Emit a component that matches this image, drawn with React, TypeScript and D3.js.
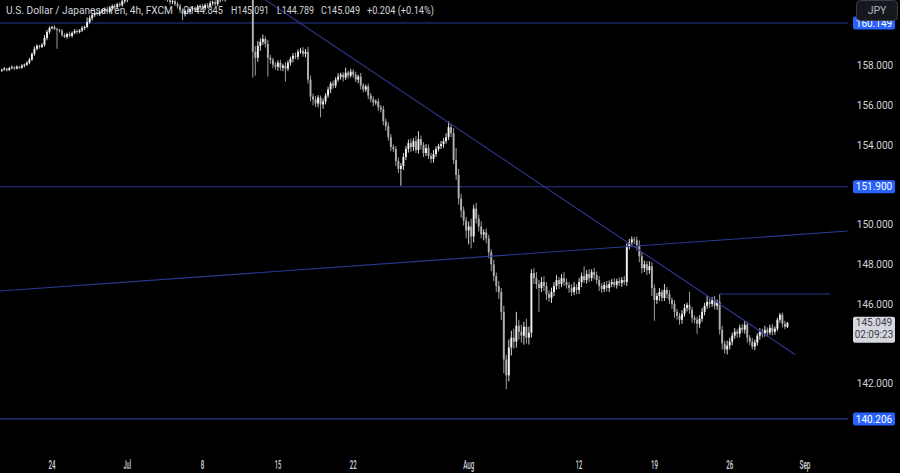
import React from "react";
import * as d3 from "d3";

// ---- data (4h USDJPY candles) ----
const firstOpen = 157.75;
const closes: number[] = [
  157.80,157.85,157.78,157.88,157.92,157.86,157.95,157.90,158.00,158.05,
  158.15,158.30,158.60,158.85,159.00,158.95,159.05,159.40,159.70,159.90,
  159.95,159.85,159.80,159.75,159.55,159.45,159.60,159.50,159.65,159.75,
  159.70,159.78,159.90,159.95,160.20,160.40,160.55,160.65,160.60,160.70,
  160.75,160.85,160.70,160.90,161.00,160.95,161.10,161.05,161.25,161.30,
  161.45,161.55,161.50,161.65,161.60,161.70,161.75,161.65,161.80,161.70,
  161.75,161.85,161.80,161.60,161.50,161.40,161.30,161.20,161.25,161.10,
  161.00,160.80,160.60,160.75,160.70,160.85,160.90,160.80,160.95,161.00,
  160.90,161.05,161.00,161.15,161.20,161.10,161.30,161.40,161.35,161.50,
  161.55,161.60,161.70,161.65,161.60,161.70,161.65,161.60,161.55,161.60,
  158.70,158.40,159.00,159.20,159.35,159.10,158.40,158.30,158.05,157.95,
  158.15,157.90,158.00,157.85,158.15,158.35,158.50,158.45,158.70,158.75,
  158.60,158.70,157.30,156.45,156.30,156.10,156.40,156.05,156.20,156.50,
  156.80,157.10,157.00,157.30,157.45,157.55,157.40,157.65,157.50,157.70,
  157.55,157.30,157.45,157.00,156.80,156.95,156.50,156.30,156.15,156.20,
  155.90,155.80,155.20,154.95,154.40,153.90,153.80,153.20,152.80,152.95,
  153.40,153.80,154.10,153.90,154.20,153.75,154.30,154.00,153.60,153.85,
  153.45,153.30,153.55,153.80,153.95,154.05,154.20,154.40,154.90,154.60,
  153.25,152.50,151.30,150.70,150.20,149.70,149.90,149.40,150.80,150.30,
  149.90,149.50,149.60,149.30,148.60,148.00,147.40,146.90,146.60,145.60,
  143.20,142.40,143.80,144.30,144.10,144.90,144.60,144.40,144.85,144.30,
  144.55,147.55,147.30,147.00,146.80,147.10,146.90,146.50,146.30,146.60,
  146.90,147.20,147.00,147.30,147.10,146.95,146.80,146.60,146.85,146.70,
  147.10,147.40,147.20,147.50,147.30,147.60,147.45,147.20,146.90,146.75,
  146.95,146.80,147.00,147.10,146.95,147.15,147.05,147.20,147.10,148.90,
  149.10,149.25,149.20,148.95,148.40,147.80,148.00,147.70,147.90,146.80,
  146.20,146.40,146.60,146.30,146.70,146.50,146.20,146.00,145.60,145.40,
  145.20,145.50,145.80,145.95,145.70,145.30,145.20,145.00,145.25,145.60,
  145.90,146.10,146.00,146.20,145.90,146.10,144.70,144.00,143.70,143.90,
  144.10,144.40,144.60,144.50,144.80,144.70,144.95,144.30,144.10,143.85,
  144.05,144.40,144.60,144.50,144.70,144.55,144.80,144.60,144.75,145.20,
  145.45,145.00,144.845,145.049,
];
// upper / lower wick lengths in hundredths of a yen
const wickUp: number[] = [
  5,8,4,6,9,5,7,4,8,6, 7,10,6,12,8,5,9,15,10,8, 6,9,7,5,10,8,6,12,7,9,
  8,6,10,7,23,12,8,10,6,9, 10,8,12,6,9,11,7,10,8,12, 10,8,12,9,11,8,10,12,9,11,
  12,10,8,11,9,12,10,8,11,9, 10,12,8,9,11,8,10,9,12,8, 11,9,10,12,8,10,11,9,12,10,
  9,11,10,8,12,9,10,11,8,10, 10,30,25,18,22,12,20,15,10,14, 12,15,10,18,12,10,14,16,12,15,
  18,14,25,20,15,18,12,10,15,12, 14,10,15,12,18,10,12,25,10,14, 12,15,10,18,12,10,14,12,16,10,
  15,12,18,14,20,16,12,15,18,14, 20,15,18,22,15,25,40,18,15,20, 18,15,20,14,12,16,15,20,30,18,
  25,60,30,25,20,18,25,40,20,30, 20,25,15,20,18,15,22,18,25,20, 30,25,40,35,45,70,30,35,25,40,
  30,20,25,30,20,25,30,20,18,22, 20,25,15,20,30,18,15,20,25,15, 20,18,50,20,25,15,22,18,20,15,
  15,20,18,15,20,12,18,15,20,15, 18,15,12,20,25,20,18,15,25,20, 18,15,20,12,30,15,20,12,18,15,
  15,18,20,12,65,15,12,15,18,20, 15,30,18,15,20,12,40,20,15,25, 20,15,18,12,15,18,20,15,12,18,
  15,12,18,15,20,12,15,18,12,10, 10,12,15,4,
];
const wickDn: number[] = [
  6,5,8,4,6,9,5,7,6,8, 6,8,5,10,7,9,6,8,12,10, 8,6,95,8,10,6,9,7,8,6,
  9,7,8,10,6,8,12,9,7,10, 8,12,10,9,8,12,9,10,8,11, 10,12,9,11,10,8,12,10,9,11,
  11,9,12,10,8,11,9,12,10,9, 12,15,30,12,10,11,9,10,8,12, 9,11,10,8,12,10,9,11,10,12,
  10,9,12,11,10,8,12,10,11,9, 130,90,20,25,15,18,95,20,18,15, 20,15,18,65,12,15,18,12,15,10,
  15,18,20,25,30,18,20,65,22,15, 12,18,15,12,10,15,20,12,15,10, 15,12,18,20,15,12,18,15,20,12,
  18,15,20,22,18,20,15,25,20,85, 20,15,18,25,20,15,18,22,20,15, 15,20,18,15,12,15,18,12,15,20,
  20,25,30,35,25,40,70,60,30,25, 25,20,30,25,30,35,25,30,35,40, 70,70,30,40,35,30,40,35,45,30,
  35,25,30,25,120,20,25,30,20,25, 20,18,25,15,20,18,25,20,15,22, 20,25,15,18,20,15,22,18,25,20,
  15,18,20,15,12,18,15,20,15,20, 15,20,18,25,30,25,20,25,18,40, 105,20,25,18,15,22,20,25,30,20,
  25,20,15,18,20,25,18,50,20,15, 18,15,20,15,18,20,25,30,20,25, 20,18,15,20,18,15,20,25,18,15,
  18,15,20,18,15,20,12,18,15,12, 15,18,12,6,
];

const priceTicks = [158, 156, 154, 150, 148, 146, 142];
const dateLabels = ["24", "Jul", "8", "15", "22", "Aug", "12", "19", "26", "Sep"];
const dateIndex = [20, 50, 80, 110, 140, 186, 230, 260, 290, 320];
const dateWidths = [7, 7.5, 3.5, 6.5, 7, 11, 6.5, 7, 7, 11];

const levels = [160.149, 151.9, 140.206];
const risingLine = [[-1, 146.65], [337, 149.67]];
const fallingLine = [[104, 161.4], [316, 143.45]];
const resistance = [[286, 146.5], [330, 146.5]];
const lastPrice = 145.049;
const countdown = "02:09:23";
const titleParts = [
  { t: "U.S. Dollar / Japanese Yen, 4h, FXCM", x: 6, w: 167 },
  { t: "O144.845", x: 183, w: 40 },
  { t: "H145.091", x: 231, w: 38 },
  { t: "L144.789", x: 277, w: 37 },
  { t: "C145.049", x: 321, w: 39 },
  { t: "+0.204 (+0.14%)", x: 367, w: 67 },
];

const W = 900, H = 473, PLOT_R = 848, PLOT_B = 448;
const TXT = "#d1d4dc";
const LINE = "#2c3893";
const BLUE = "#2962ff";
const FONT = "Roboto, 'Noto Sans', sans-serif";

export default function App() {
  const x = d3.scaleLinear().domain([20, 320]).range([52, 805]);
  const y = d3.scaleLinear().domain([158, 142]).range([65.7, 383.3]);
  const n = Math.min(closes.length, wickUp.length, wickDn.length);
  const candles = d3.range(n).map((i) => {
    const o = i === 0 ? firstOpen : closes[i - 1];
    const c = closes[i];
    return {
      i, o, c,
      h: Math.max(o, c) + wickUp[i] / 100,
      l: Math.min(o, c) - wickDn[i] / 100,
    };
  });
  const bw = 1.9;
  const seg = (pts: number[][]) => (
    <line x1={x(pts[0][0])} y1={y(pts[0][1])} x2={x(pts[1][0])} y2={y(pts[1][1])} stroke={LINE} strokeWidth={1.1} />
  );

  return (
    <div style={{ position: "fixed", left: 0, top: 0, width: W, height: H, background: "#000" }}>
      <svg width={W} height={H} style={{ display: "block", fontFamily: FONT }}>
        <defs>
          <clipPath id="plot"><rect x={0} y={0} width={PLOT_R} height={PLOT_B} /></clipPath>
        </defs>
        <rect width={W} height={H} fill="#000" />
        <g clipPath="url(#plot)">
          {levels.map((v) => (
            <line key={v} x1={0} x2={PLOT_R} y1={y(v)} y2={y(v)} stroke={LINE} strokeWidth={1.1} />
          ))}
          {candles.map((d) => {
            const up = d.c >= d.o;
            const col = up ? "#f2f2f2" : "#b0b0b0";
            const top = y(Math.max(d.o, d.c));
            const bot = y(Math.min(d.o, d.c));
            return (
              <g key={d.i}>
                <line x1={x(d.i)} x2={x(d.i)} y1={y(d.h)} y2={y(d.l)} stroke={col} strokeWidth={0.9} />
                <rect x={x(d.i) - bw / 2} y={top} width={bw} height={Math.max(0.8, bot - top)} fill={col} />
              </g>
            );
          })}
          {seg(risingLine)}
          {seg(fallingLine)}
          {seg(resistance)}
        </g>
        {titleParts.map((p) => (
          <text key={p.t} x={p.x} y={14} fontSize={10.5} fill={TXT} textLength={p.w} lengthAdjust="spacingAndGlyphs">{p.t}</text>
        ))}
        {priceTicks.map((v) => (
          <text key={v} x={875} y={y(v) + 3.6} fontSize={10} fill={TXT} textAnchor="middle">{v.toFixed(3)}</text>
        ))}
        {levels.map((v) => (
          <g key={"lb" + v}>
            <rect x={853} y={y(v) - 6.5} width={42} height={13} rx={2} fill={BLUE} />
            <text x={874} y={y(v) + 3.6} fontSize={10} fill="#ffffff" textAnchor="middle">{v.toFixed(3)}</text>
          </g>
        ))}
        <g>
          <rect x={853} y={y(lastPrice) - 6} width={42} height={26} rx={2} fill="#d6d8de" />
          <text x={874} y={y(lastPrice) + 3.6} fontSize={10} fill="#3a3e4a" textAnchor="middle">{lastPrice.toFixed(3)}</text>
          <text x={874} y={y(lastPrice) + 15.6} fontSize={10} fill="#3a3e4a" textAnchor="middle">{countdown}</text>
        </g>
        <rect x={856.5} y={0.5} width={41} height={20} rx={4} fill="#16181e" stroke="#3a3d47" />
        <text x={877} y={14} fontSize={10.5} fill="#b2b5be" textAnchor="middle">JPY</text>
        {dateLabels.map((t, k) => (
          <text key={t + k} x={x(dateIndex[k])} y={469} fontSize={12} fontWeight={500} fill={TXT} textAnchor="middle"
            textLength={dateWidths[k]} lengthAdjust="spacingAndGlyphs">{t}</text>
        ))}
      </svg>
    </div>
  );
}
